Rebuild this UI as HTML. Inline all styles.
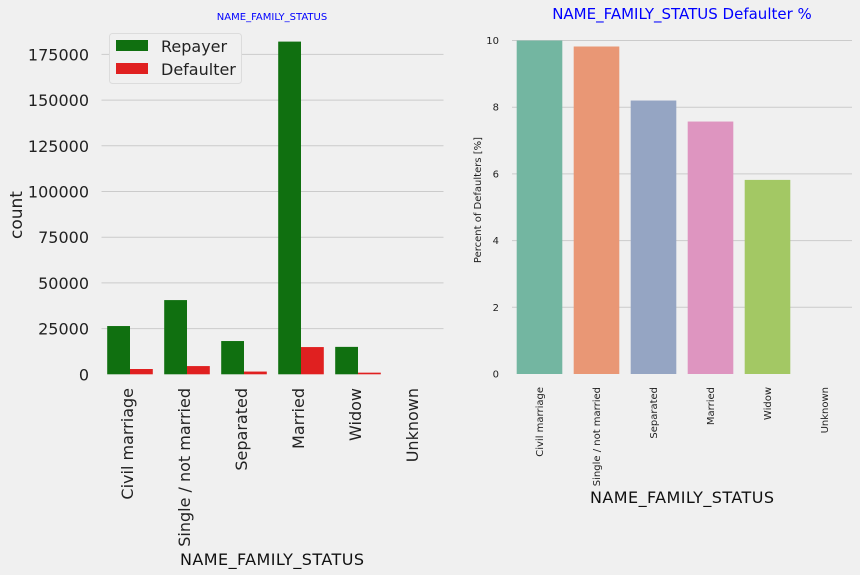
<!DOCTYPE html>
<html><head><meta charset="utf-8"><style>
html,body{margin:0;padding:0;background:#f0f0f0;}
svg{display:block;font-family:"DejaVu Sans","Liberation Sans",sans-serif;}
</style></head><body>
<svg id="chart" width="860" height="575" viewBox="0 0 860 575">
<rect width="860" height="575" fill="#f0f0f0"/>
<g id="left"></g>
<g id="right"></g>
</svg>
<script>
const categories = ["Civil marriage","Single / not married","Separated","Married","Widow","Unknown"];
const repayerCounts = [26400, 40600, 18200, 182000, 15000, 2];
const defaulterCounts = [2900, 4500, 1500, 14900, 900, 0];
const leftTicks = [0,25000,50000,75000,100000,125000,150000,175000];
const defaultPct = [10.0, 9.82, 8.2, 7.57, 5.82, 0];
const rightTicks = [0,2,4,6,8,10];
const pctColors = ["#73b6a1","#e99775","#95a5c3","#de95c0","#a3c864","#ffd92f"];

const NS="http://www.w3.org/2000/svg";
function mk(parent,tag,attrs,text){const e=document.createElementNS(NS,tag);for(const k in attrs)e.setAttribute(k,attrs[k]);if(text!==undefined)e.textContent=text;parent.appendChild(e);return e;}

// Left chart
const L=document.getElementById('left');
const lx0=101.5,lx1=443.5,ly0=374.3,lyPer=45.7/25000;
const lband=(lx1-lx0)/categories.length;
const ly=v=>ly0-v*lyPer;
const lxc=i=>lx0+lband*(i+0.5);
leftTicks.forEach(t=>{
  if(t>0){const g=mk(L,'line',{x1:lx0,x2:lx1,y1:ly(t),y2:ly(t),stroke:'#cbcbcb','stroke-width':1});
  
  }
  const tx=mk(L,'text',{x:89,y:ly(t)+6,'text-anchor':'end','font-size':16,fill:'#222'},String(t));
  
  
});
const bw=lband*0.8/2;
categories.forEach((c,i)=>{
  const x=lxc(i);
  const r=mk(L,'rect',{x:x-bw,y:ly(repayerCounts[i]),width:bw,height:ly0-ly(repayerCounts[i]),fill:'#107010'});
  
  
  const d=mk(L,'rect',{x:x,y:ly(defaulterCounts[i]),width:bw,height:ly0-ly(defaulterCounts[i]),fill:'#e02020'});
  
  
  const t=mk(L,'text',{x:0,y:0,'text-anchor':'end','font-size':16,fill:'#222',transform:`translate(${x+3},388) rotate(-90)`},c);
  
  
});
mk(L,'text',{x:272,y:20,'text-anchor':'middle','font-size':10,fill:'#0000ff',},'NAME_FAMILY_STATUS');
mk(L,'text',{x:0,y:0,'text-anchor':'middle','font-size':17,fill:'#222',transform:'translate(22,215) rotate(-90)',},'count');
mk(L,'text',{x:272,y:565,'text-anchor':'middle','font-size':16,fill:'#111',textLength:184,},'NAME_FAMILY_STATUS');
// legend
const lg=mk(L,'g',{});
mk(lg,'rect',{x:109.5,y:33.5,width:132,height:50,rx:3,fill:'#f0f0f0',stroke:'#dcdcdc',});
mk(lg,'rect',{x:116,y:40,width:32,height:11,fill:'#107010',});
mk(lg,'text',{x:161,y:52,'font-size':16,fill:'#222',},'Repayer');
mk(lg,'rect',{x:116,y:63,width:32,height:11,fill:'#e02020',});
mk(lg,'text',{x:161,y:75,'font-size':16,fill:'#222',},'Defaulter');

// Right chart
const R=document.getElementById('right');
const rx0=511,rx1=853,ry0=374,ryPer=33.35;
const rband=(rx1-rx0)/categories.length;
const ry=v=>ry0-v*ryPer;
const rxc=i=>rx0+rband*(i+0.5);
rightTicks.forEach(t=>{
  if(t>0){const g=mk(R,'line',{x1:rx0+1,x2:852,y1:ry(t),y2:ry(t),stroke:'#cbcbcb','stroke-width':1});
  
  }
  const tx=mk(R,'text',{x:499,y:ry(t)+3.5,'text-anchor':'end','font-size':10,fill:'#222'},String(t));
  
  
});
const rbw=rband*0.8;
categories.forEach((c,i)=>{
  const x=rxc(i);
  const r=mk(R,'rect',{x:x-rbw/2,y:ry(defaultPct[i]),width:rbw,height:ry0-ry(defaultPct[i]),fill:pctColors[i]});
  
  
  const t=mk(R,'text',{x:0,y:0,'text-anchor':'end','font-size':10,fill:'#222',transform:`translate(${x+3.5},387) rotate(-90)`},c);
  
  
});
mk(R,'text',{x:682,y:19,'text-anchor':'middle','font-size':15,fill:'#0000ff',},'NAME_FAMILY_STATUS Defaulter %');
mk(R,'text',{x:0,y:0,'text-anchor':'middle','font-size':10,fill:'#222',transform:'translate(481,200) rotate(-90)',},'Percent of Defaulters [%]');
mk(R,'text',{x:682,y:503,'text-anchor':'middle','font-size':16,fill:'#111',textLength:184,},'NAME_FAMILY_STATUS');
</script>
</body></html>
